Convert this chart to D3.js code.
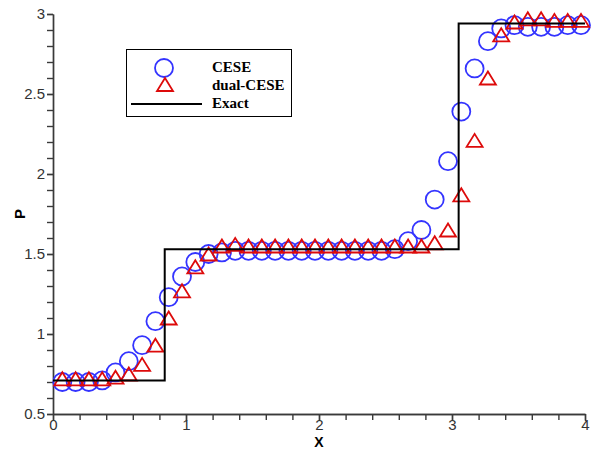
<!DOCTYPE html>
<html>
<head>
<meta charset="utf-8">
<script src="https://cdn.jsdelivr.net/npm/d3@7"></script>
<style>
  body { margin: 0; background: #fff; }
  svg { display: block; }
</style>
</head>
<body>
<script>
// sample positions shared by both numerical schemes
const xs = [0.07, 0.17, 0.27, 0.37, 0.47, 0.57, 0.67, 0.77, 0.87, 0.97,
            1.07, 1.17, 1.27, 1.37, 1.47, 1.57, 1.67, 1.77, 1.87, 1.97,
            2.07, 2.17, 2.27, 2.37, 2.47, 2.57, 2.67, 2.77, 2.87, 2.97,
            3.07, 3.17, 3.27, 3.37, 3.47, 3.57, 3.67, 3.77, 3.87, 3.97];

const ceseP = [0.70, 0.70, 0.70, 0.71, 0.76, 0.83, 0.93, 1.08, 1.23, 1.36,
               1.45, 1.50, 1.51, 1.52, 1.52, 1.52, 1.52, 1.52, 1.52, 1.52,
               1.52, 1.52, 1.52, 1.52, 1.52, 1.53, 1.58, 1.65, 1.84, 2.08,
               2.39, 2.66, 2.83, 2.91, 2.93, 2.92, 2.92, 2.92, 2.93, 2.93];

const dualP = [0.72, 0.72, 0.72, 0.72, 0.73, 0.75, 0.81, 0.93, 1.10, 1.27,
               1.42, 1.50, 1.55, 1.56, 1.55, 1.55, 1.55, 1.55, 1.55, 1.55,
               1.55, 1.55, 1.55, 1.55, 1.55, 1.55, 1.55, 1.55, 1.57, 1.65,
               1.87, 2.21, 2.60, 2.87, 2.95, 2.97, 2.97, 2.96, 2.96, 2.96];

const exactX = [0, 0.84, 0.84, 3.05, 3.05, 4];
const exactP = [0.71, 0.71, 1.53, 1.53, 2.94, 2.94];

const xTicks = [0, 1, 2, 3, 4];
const xMinor = d3.range(0, 4.001, 0.2);
const yTicks = [0.5, 1, 1.5, 2, 2.5, 3];
const yMinor = d3.range(0.5, 3.001, 0.1);

const legendItems = ['CESE', 'dual-CESE', 'Exact'];

const width = 597;
const height = 451;

const svg = d3.select('body').append('svg')
  .attr('width', width)
  .attr('height', height);

const x = d3.scaleLinear().domain([0, 4]).range([53, 585]);
const y = d3.scaleLinear().domain([0.5, 3]).range([414, 14]);

const axisColor = '#3a3a3a';
const labelColor = '#333';

// minor ticks first, then major ticks with labels
svg.append('g')
  .attr('transform', `translate(0,${y(0.5)})`)
  .call(d3.axisBottom(x).tickValues(xMinor).tickFormat('').tickSize(6).tickSizeOuter(0));
const xAxis = svg.append('g')
  .attr('transform', `translate(0,${y(0.5)})`)
  .call(d3.axisBottom(x).tickValues(xTicks).tickFormat(d3.format('~g')).tickSize(7).tickSizeOuter(0));
// labels sit right under the axis, the tick runs into them
xAxis.selectAll('.tick text').attr('y', 5);

svg.append('g')
  .attr('transform', `translate(${x(0)},0)`)
  .call(d3.axisLeft(y).tickValues(yMinor).tickFormat('').tickSize(6).tickSizeOuter(0));
const yAxis = svg.append('g')
  .attr('transform', `translate(${x(0)},0)`)
  .call(d3.axisLeft(y).tickValues(yTicks).tickFormat(d3.format('~g')).tickSize(6).tickSizeOuter(0).tickPadding(2));

svg.selectAll('.domain, .tick line')
  .attr('stroke', axisColor)
  .attr('stroke-width', 1.4);

svg.selectAll('.tick text')
  .attr('fill', labelColor)
  .style('font-family', '"Liberation Sans", Arial, sans-serif')
  .style('font-size', '15px');

// axis titles
svg.append('text')
  .attr('x', x(2))
  .attr('y', 447)
  .attr('text-anchor', 'middle')
  .style('font-family', '"Liberation Sans", Arial, sans-serif')
  .style('font-size', '14px')
  .style('font-weight', 'bold')
  .text('X');

svg.append('text')
  .attr('transform', 'translate(25,214) rotate(-90)')
  .attr('text-anchor', 'middle')
  .style('font-family', '"Liberation Sans", Arial, sans-serif')
  .style('font-size', '15px')
  .style('font-weight', 'bold')
  .text('P');

const blue = '#3434ff';
const red = '#dd0a0a';

// open triangle, 16 wide and 13 tall, centred on the point
function triangle(w, h) {
  return `M0,${-h / 2}L${w / 2},${h / 2}L${-w / 2},${h / 2}Z`;
}

const plot = svg.append('g');

plot.selectAll('.cese')
  .data(xs.map((v, i) => ({ x: v, p: ceseP[i] })))
  .enter().append('circle')
  .attr('class', 'cese')
  .attr('cx', d => x(d.x))
  .attr('cy', d => y(d.p))
  .attr('r', 9)
  .attr('fill', 'none')
  .attr('stroke', blue)
  .attr('stroke-width', 1.8);

plot.selectAll('.dual')
  .data(xs.map((v, i) => ({ x: v, p: dualP[i] })))
  .enter().append('path')
  .attr('class', 'dual')
  .attr('d', triangle(16, 13))
  .attr('transform', d => `translate(${x(d.x)},${y(d.p)})`)
  .attr('fill', 'none')
  .attr('stroke', red)
  .attr('stroke-width', 1.8);

const line = d3.line()
  .x((d, i) => x(exactX[i]))
  .y(d => y(d));

plot.append('path')
  .datum(exactP)
  .attr('d', line)
  .attr('fill', 'none')
  .attr('stroke', '#000')
  .attr('stroke-width', 2);

// legend
const legend = svg.append('g');
legend.append('rect')
  .attr('x', 126.5).attr('y', 49.5)
  .attr('width', 165).attr('height', 67)
  .attr('fill', '#fff')
  .attr('stroke', '#000')
  .attr('stroke-width', 1);

legend.append('circle')
  .attr('cx', 164).attr('cy', 68)
  .attr('r', 9)
  .attr('fill', 'none')
  .attr('stroke', blue)
  .attr('stroke-width', 1.8);

legend.append('path')
  .attr('d', triangle(16, 13))
  .attr('transform', 'translate(165,84.5)')
  .attr('fill', 'none')
  .attr('stroke', red)
  .attr('stroke-width', 1.8);

legend.append('line')
  .attr('x1', 131).attr('x2', 202)
  .attr('y1', 104).attr('y2', 104)
  .attr('stroke', '#000')
  .attr('stroke-width', 2);

legend.selectAll('.lab')
  .data(legendItems)
  .enter().append('text')
  .attr('class', 'lab')
  .attr('x', 212)
  .attr('y', (d, i) => 72 + i * 18)
  .style('font-family', '"Liberation Serif", "Times New Roman", serif')
  .style('font-size', '15px')
  .style('font-weight', 'bold')
  .text(d => d);
</script>
</body>
</html>
